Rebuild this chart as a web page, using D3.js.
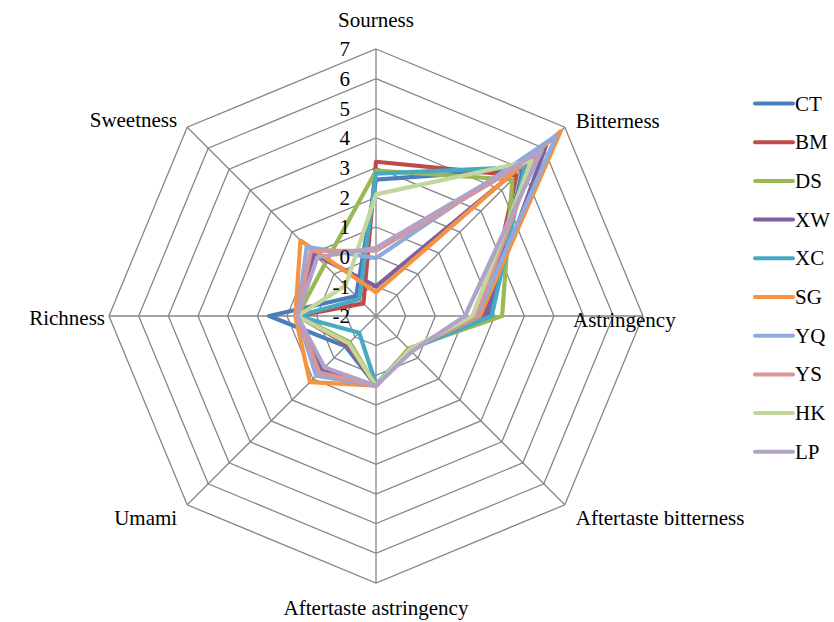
<!DOCTYPE html>
<html>
<head>
<meta charset="utf-8">
<script src="https://cdn.jsdelivr.net/npm/d3@7"></script>
<style>
body { margin: 0; background: #fff; }
</style>
</head>
<body>
<script>
//axis categories, clockwise from the top
var categories = ["Sourness", "Bitterness", "Astringency", "Aftertaste bitterness",
    "Aftertaste astringency", "Umami", "Richness", "Sweetness"];

//radial tick labels
var tickValues = [-2, -1, 0, 1, 2, 3, 4, 5, 6, 7];

//series names and values (same order as categories)
var seriesNames = ["CT", "BM", "DS", "XW", "XC", "SG", "YQ", "YS", "HK", "LP"];
var CT = [2.6, 5.0, 1.8, -0.4, 0.35, -0.55, 1.6, -1.05];
var BM = [3.2, 4.7, 1.7, -0.4, 0.35, -0.65, 0.65, -1.4];
var DS = [2.9, 4.5, 2.25, -0.45, 0.35, -0.75, 0.65, 0.45];
var XW = [-1.0, 6.1, 1.65, -0.4, 0.35, 0.6, 0.65, 0.95];
var XC = [2.8, 5.1, 1.9, -0.4, 0.3, -1.2, 0.65, -1.2];
var SG = [-1.2, 6.8, 1.5, -0.4, 0.35, 1.15, 0.72, 1.6];
var YQ = [-0.05, 6.6, 1.4, -0.4, 0.35, 0.85, 0.65, 1.3];
var YS = [0.2, 5.6, 1.35, -0.4, 0.35, 0.7, 0.65, 1.1];
var HK = [2.1, 5.4, 1.25, -0.4, 0.35, -0.7, 0.65, -0.55];
var LP = [0.3, 5.9, 1.0, -0.3, 0.35, 0.45, 0.65, 0.8];
var seriesValues = [CT, BM, DS, XW, XC, SG, YQ, YS, HK, LP];

var colors = ["#4a7ebb", "#be4b48", "#98b954", "#7d60a0", "#46aac5",
    "#f69240", "#8faadc", "#d99694", "#c3d69b", "#b3a2c7"];

var serif = "Liberation Serif, DejaVu Serif";

window.onload = drawChart();

function drawChart() {
    var width = 834,
        height = 622;

    var cx = 376,
        cy = 316,
        radius = 267;

    var svg = d3.select("body")
        .append("svg")
        .attr("width", width)
        .attr("height", height)
        .attr("font-family", serif);

    var r = d3.scaleLinear()
        .domain([-2, 7])
        .range([0, radius]);

    var n = categories.length;
    function angle(i) { return i * 2 * Math.PI / n; }

    var g = svg.append("g")
        .attr("transform", "translate(" + cx + "," + cy + ")");

    //octagonal rings
    var ringLine = d3.lineRadial()
        .angle(function(d, i){ return angle(i); })
        .radius(function(d){ return r(d); })
        .curve(d3.curveLinearClosed);

    g.selectAll(".ring")
        .data(tickValues.slice(1))
        .enter()
        .append("path")
        .attr("class", "ring")
        .attr("d", function(v){ return ringLine(categories.map(function(){ return v; })); })
        .attr("fill", "none")
        .attr("stroke", "#868686")
        .attr("stroke-width", 1.3);

    //spokes
    g.selectAll(".spoke")
        .data(categories)
        .enter()
        .append("line")
        .attr("class", "spoke")
        .attr("x1", 0)
        .attr("y1", 0)
        .attr("x2", function(d, i){ return Math.sin(angle(i)) * r(7); })
        .attr("y2", function(d, i){ return -Math.cos(angle(i)) * r(7); })
        .attr("stroke", "#868686")
        .attr("stroke-width", 1.3);

    //series polygons
    var seriesLine = d3.lineRadial()
        .angle(function(d, i){ return angle(i); })
        .radius(function(d){ return r(d); })
        .curve(d3.curveLinearClosed);

    g.selectAll(".series")
        .data(seriesValues)
        .enter()
        .append("path")
        .attr("class", "series")
        .attr("d", seriesLine)
        .attr("fill", "none")
        .attr("stroke", function(d, i){ return colors[i]; })
        .attr("stroke-width", 4.2)
        .attr("stroke-linejoin", "round");

    //tick labels along the sourness axis
    g.selectAll(".tick")
        .data(tickValues)
        .enter()
        .append("text")
        .attr("class", "tick")
        .attr("x", -26)
        .attr("y", function(d){ return -r(d); })
        .attr("dy", "0.35em")
        .attr("text-anchor", "end")
        .attr("font-size", 21)
        .text(function(d){ return d; });

    //category labels
    var labelPos = [
        {dx: 0, dy: -22, anchor: "middle"},
        {dx: 11, dy: 1, anchor: "start"},
        {dx: -70, dy: 11, anchor: "start"},
        {dx: 11, dy: 20, anchor: "start"},
        {dx: 0, dy: 32, anchor: "middle"},
        {dx: -10, dy: 20, anchor: "end"},
        {dx: -4, dy: 9, anchor: "end"},
        {dx: -10, dy: 0, anchor: "end"}
    ];

    g.selectAll(".category")
        .data(categories)
        .enter()
        .append("text")
        .attr("class", "category")
        .attr("x", function(d, i){ return Math.sin(angle(i)) * r(7) + labelPos[i].dx; })
        .attr("y", function(d, i){ return -Math.cos(angle(i)) * r(7) + labelPos[i].dy; })
        .attr("text-anchor", function(d, i){ return labelPos[i].anchor; })
        .attr("font-size", 21)
        .text(function(d){ return d; });

    //legend
    var legend = svg.selectAll(".legend")
        .data(seriesNames)
        .enter()
        .append("g")
        .attr("class", "legend")
        .attr("transform", function(d, i){ return "translate(755," + (103.5 + i * 38.7) + ")"; });

    legend.append("line")
        .attr("x1", 0)
        .attr("x2", 38)
        .attr("y1", 0)
        .attr("y2", 0)
        .attr("stroke", function(d, i){ return colors[i]; })
        .attr("stroke-width", 4)
        .attr("stroke-linecap", "round");

    legend.append("text")
        .attr("x", 40)
        .attr("y", 7)
        .attr("font-size", 21)
        .text(function(d){ return d; });
};
</script>
</body>
</html>
